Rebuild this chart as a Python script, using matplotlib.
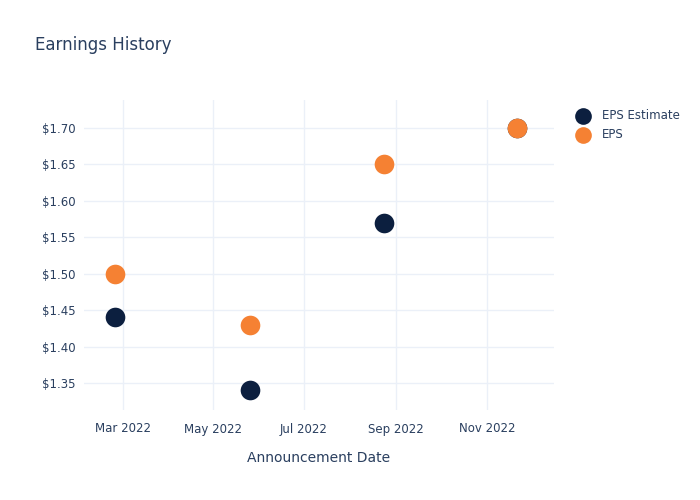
import datetime as dt
import matplotlib
matplotlib.use("Agg")
import matplotlib.pyplot as plt
import matplotlib.dates as mdates
from matplotlib.ticker import FuncFormatter, MultipleLocator

dates = [dt.date(2022, 2, 24), dt.date(2022, 5, 26), dt.date(2022, 8, 24), dt.date(2022, 11, 21)]
eps_estimate = [1.44, 1.34, 1.57, 1.70]
eps_actual = [1.50, 1.43, 1.65, 1.70]

navy = "#0c1f3f"
orange = "#f58133"
txt = "#2a3f5f"
grid = "#ebf0f8"

plt.rcParams["font.family"] = ["DejaVu Sans"]

fig = plt.figure(figsize=(7, 5), dpi=100)
ax = fig.add_axes([0.12, 0.18, 0.671, 0.62])

ax.scatter(dates, eps_estimate, s=200, color=navy, label="EPS Estimate", zorder=3, linewidths=0)
ax.scatter(dates, eps_actual, s=200, color=orange, label="EPS", zorder=4, linewidths=0)

ax.set_xlim(dt.date(2022, 2, 3), dt.date(2022, 12, 16))
ax.set_ylim(1.313, 1.738)
ax.xaxis.set_major_locator(mdates.MonthLocator(bymonth=[3, 5, 7, 9, 11]))
ax.xaxis.set_major_formatter(mdates.DateFormatter("%b %Y"))
ax.yaxis.set_major_locator(MultipleLocator(0.05))
ax.yaxis.set_major_formatter(FuncFormatter(lambda v, p: "${:.2f}".format(v)))

ax.grid(True, color=grid, linewidth=1)
ax.set_axisbelow(True)
for s in ax.spines.values():
    s.set_visible(False)
ax.tick_params(axis="y", length=0, labelsize=8.5, colors=txt, pad=6)
ax.tick_params(axis="x", length=0, labelsize=8.5, colors=txt, pad=9)

ax.set_xlabel("Announcement Date", fontsize=10, color=txt, labelpad=11)
fig.text(0.05, 0.91, "Earnings History", fontsize=12, color=txt, va="center")

leg = ax.legend(loc="upper left", bbox_to_anchor=(1.015, 1.005), frameon=False,
                fontsize=8.5, labelcolor=txt, handletextpad=0.6, labelspacing=0.5,
                markerscale=0.85)

fig.savefig("out.png", dpi=100)
